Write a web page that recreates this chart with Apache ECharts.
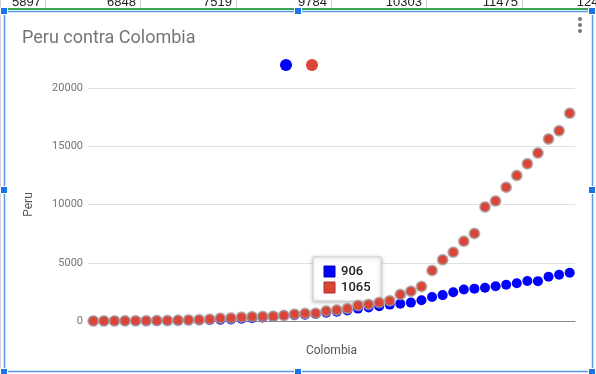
<!DOCTYPE html>
<html><head><meta charset="utf-8">
<script src="https://cdn.jsdelivr.net/npm/echarts@6/dist/echarts.min.js"></script>
<style>html,body{margin:0;padding:0;background:#fff}#c{width:596px;height:374px}</style>
</head><body><div id="c"></div>
<script>
// Categories (dates, 7 Mar .. 21 Apr)
const dates = ['7/3','8/3','9/3','10/3','11/3','12/3','13/3','14/3','15/3','16/3','17/3','18/3','19/3','20/3','21/3','22/3','23/3','24/3','25/3','26/3','27/3','28/3','29/3','30/3','31/3',
  '1/4','2/4','3/4','4/4','5/4','6/4','7/4','8/4','9/4','10/4','11/4','12/4','13/4','14/4','15/4','16/4','17/4','18/4','19/4','20/4','21/4'];
const colombia = [1,1,3,3,9,9,13,22,34,54,65,93,102,128,196,231,306,378,470,491,539,608,702,798,906,
  1065,1161,1267,1406,1485,1579,1780,2054,2223,2473,2709,2776,2852,2979,3105,3233,3439,3420,3792,3977,4149];
const peru = [6,7,9,11,17,22,38,43,71,86,117,145,234,263,318,363,395,416,480,580,635,671,852,950,1065,
  1323,1414,1595,1746,2281,2561,2954,4342,5256,5897,6848,7519,9784,10303,11475,12491,13489,14420,15628,16325,17837];
const yTicks = [0,5000,10000,15000,20000];
const tipIndex = 24;
// spreadsheet row visible above the chart
const sheetCells = ['5897','6848','7519','9784','10303','11475','12491'];
const sheetSeps = [45,140,236,331,426,522,617];

const FONT = 'Roboto, "Noto Sans", Arial, sans-serif';
const chart = echarts.init(document.getElementById('c'), null, {renderer:'canvas'});

const option = {
  animation:false,
  backgroundColor:'#fff',
  title:{text:'Peru contra Colombia', left:22, top:29, padding:0,
    textStyle:{fontSize:18, fontWeight:'normal', color:'#757575', fontFamily:FONT}},
  legend:{data:['Colombia','Peru'], icon:'circle', itemWidth:12, itemHeight:12, itemGap:14,
    left:280, top:59, padding:0, formatter:()=>'', itemStyle:{borderWidth:0}},
  grid:{left:88, right:21, top:88, bottom:53, containLabel:false},
  xAxis:{type:'category', data:dates, boundaryGap:true,
    axisLabel:{show:false}, axisTick:{show:false},
    axisLine:{show:true, lineStyle:{color:'#888', width:1}},
    name:'Colombia', nameLocation:'middle', nameGap:24,
    nameTextStyle:{fontSize:12, color:'#555', fontFamily:FONT}},
  yAxis:{type:'value', min:yTicks[0], max:yTicks[yTicks.length-1], interval:yTicks[1]-yTicks[0],
    axisLine:{show:false}, axisTick:{show:false},
    axisLabel:{fontSize:11, color:'#757575', margin:5, fontFamily:FONT, formatter:v=>String(v)},
    splitLine:{lineStyle:{color:'#e0e0e0', width:1}},
    name:'Peru', nameLocation:'middle', nameGap:53,
    nameTextStyle:{fontSize:12, color:'#555', fontFamily:FONT}},
  series:[
    {name:'Colombia', type:'scatter', data:colombia, symbolSize:10,
      itemStyle:{color:'#0000ff', opacity:1}},
    {name:'Peru', type:'scatter', data:peru, symbolSize:10,
      itemStyle:{color:'#dc4437', borderColor:'rgba(160,160,160,0.7)', borderWidth:2, opacity:1}}
  ]
};
chart.setOption(option);

// Static decorations + tooltip box
const g = [];
// spreadsheet top strip
sheetSeps.forEach(x=>g.push({type:'line', shape:{x1:x+0.5,y1:0,x2:x+0.5,y2:8}, style:{stroke:'#d0d0d0', lineWidth:1}, silent:true}));
sheetCells.forEach((t,i)=>g.push({type:'text', x:sheetSeps[i]-4, y:9, style:{text:t, align:'right', verticalAlign:'bottom', fontSize:13, fontFamily:'Arial, "Liberation Sans", sans-serif', fill:'#222'}, silent:true}));
g.push({type:'rect', shape:{x:0,y:8,width:596,height:2}, style:{fill:'#34a853'}, silent:true});
// frame
g.push({type:'rect', shape:{x:4.5,y:11.5,width:588,height:360}, style:{fill:null, stroke:'#5b96ee', lineWidth:1.5}, silent:true});
g.push({type:'line', shape:{x1:0.5,y1:0,x2:0.5,y2:374}, style:{stroke:'#d0d0d0', lineWidth:1}, silent:true});
[[4,11],[298,11],[592,11],[4,190],[592,190],[4,372],[298,372],[592,372]].forEach(p=>
  g.push({type:'rect', shape:{x:p[0]-3.5,y:p[1]-3.5,width:7,height:7}, style:{fill:'#1a73e8', stroke:'#fff', lineWidth:1}, silent:true}));
// menu dots
[19,25,31].forEach(y=>g.push({type:'circle', shape:{cx:580,cy:y,r:2}, style:{fill:'#757575'}, silent:true}));

// tooltip positioned from data point
const pt = chart.convertToPixel({gridIndex:0}, [tipIndex, peru[tipIndex]]);
const bx = Math.round(pt[0]) - 34, by = Math.round(pt[1]) - 52;
g.push({type:'group', x:bx, y:by, children:[
  {type:'rect', shape:{x:0,y:0,width:68,height:44}, style:{fill:'#fff', stroke:'#cfcfcf', lineWidth:1, shadowBlur:4, shadowColor:'rgba(0,0,0,0.25)', shadowOffsetY:1}},
  {type:'rect', shape:{x:11,y:9,width:11,height:11}, style:{fill:'#0000ff', stroke:'#0000b0', lineWidth:1}},
  {type:'rect', shape:{x:11,y:25,width:11,height:11}, style:{fill:'#dc4437', stroke:'#a8322a', lineWidth:1}},
  {type:'text', x:28, y:14.5, style:{text:String(colombia[tipIndex]), fontSize:13, fontWeight:500, fontFamily:FONT, fill:'#222', verticalAlign:'middle'}},
  {type:'text', x:28, y:30.5, style:{text:String(peru[tipIndex]), fontSize:13, fontWeight:500, fontFamily:FONT, fill:'#222', verticalAlign:'middle'}}
]});
chart.setOption({graphic:{elements:g}});
</script></body></html>
